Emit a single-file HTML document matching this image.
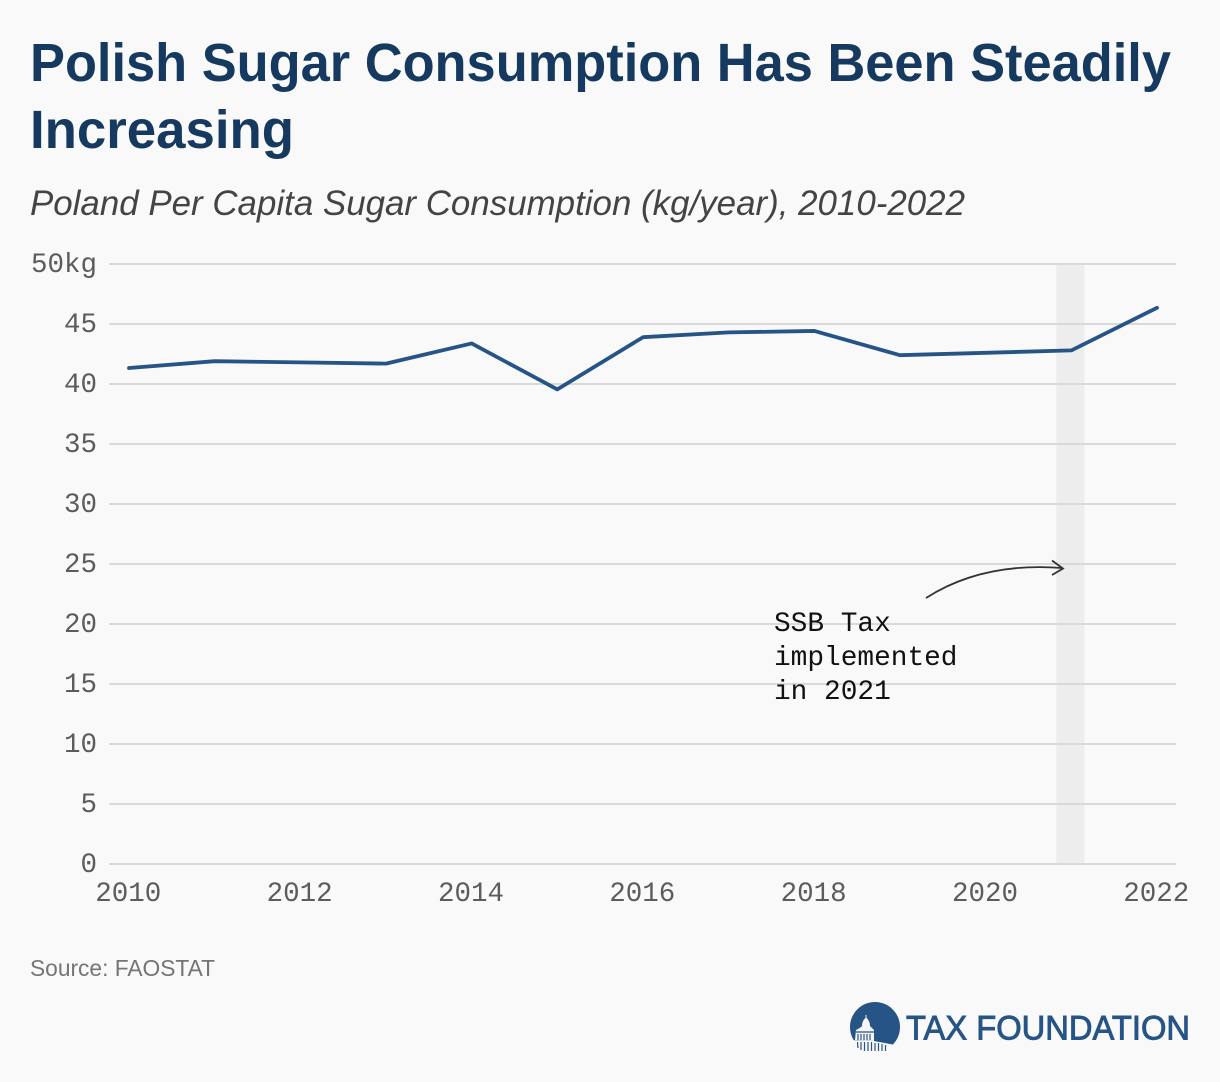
<!DOCTYPE html>
<html lang="en">
<head>
<meta charset="utf-8">
<title>Polish Sugar Consumption Has Been Steadily Increasing</title>
<style>
html,body{margin:0;padding:0;background:#f9f9f9;}
svg{display:block;}
.mono{font-family:"Liberation Mono",monospace;}
.sans{font-family:"Liberation Sans",sans-serif;}
</style>
</head>
<body>
<svg id="chart" xmlns="http://www.w3.org/2000/svg" width="1220" height="1082" viewBox="0 0 1220 1082">
  <rect width="1220" height="1082" fill="#f9f9f9"/>
  <text class="sans" x="30" y="81" font-size="54" font-weight="700" fill="#163a5f" textLength="1141" lengthAdjust="spacingAndGlyphs">Polish Sugar Consumption Has Been Steadily</text>
  <text class="sans" x="30" y="148" font-size="54" font-weight="700" fill="#163a5f" textLength="264" lengthAdjust="spacingAndGlyphs">Increasing</text>
  <text class="sans" x="30" y="215" font-size="35" font-style="italic" fill="#444444" textLength="935" lengthAdjust="spacingAndGlyphs">Poland Per Capita Sugar Consumption (kg/year), 2010-2022</text>

  <g id="grid"></g>
  <rect id="band" y="264" height="600" fill="#d8d8d8" fill-opacity="0.36"/>
  <g id="yticks"></g>
  <g id="xticks"></g>
  <path id="line" fill="none" stroke="#265486" stroke-width="3.8" stroke-linejoin="round" stroke-linecap="round"/>

  <g>
    <path d="M926 598 C965 573 1010 564 1062 568 M1052 560.500 L1063 568.500 L1052 575" fill="none" stroke="#333333" stroke-width="1.8"/>
    <text class="mono" font-size="27.800" fill="#111111">
      <tspan x="774" y="631">SSB Tax</tspan>
      <tspan x="774" y="665">implemented</tspan>
      <tspan x="774" y="699">in 2021</tspan>
    </text>
  </g>

  <text class="sans" x="30" y="976" font-size="23" fill="#757575" textLength="185" lengthAdjust="spacingAndGlyphs">Source: FAOSTAT</text>

  <g>
    <circle cx="875" cy="1027" r="25" fill="#265486"/>
    <path d="M848 1040 L874 1041 L898 1045.500 L898 1054 L848 1054 Z" fill="#f9f9f9"/>
    <path d="M855 1040 L856 1030 C858 1029 860 1028 862 1026 C862 1022 864 1019 865.500 1018 L865.500 1015 L866.500 1015 L866.500 1018 C869 1020 870 1023 870 1026 C872 1028 873 1029 874 1030 L874 1041 Z" fill="#f4f6f8"/>
    <path d="M858 1034 L858 1040 M861 1034 L861 1040 M864 1034 L864 1040 M867 1034 L867 1040 M870 1034 L870 1040 M856 1032 L874 1032 M857.500 1042 L858 1048 M861 1042 L861 1050 M864.500 1042 L864.500 1051 M868 1042 L868 1051 M871.500 1042 L871.500 1051 M875 1043 L875 1051 M878.500 1043 L878.500 1051 M882 1044 L882 1051 M885.500 1045 L885.500 1051" stroke="#265486" stroke-width="1.200" fill="none"/>
    <text class="sans" x="906" y="1039.500" font-size="34" fill="#265486" stroke="#265486" stroke-width="0.900" textLength="284" lengthAdjust="spacingAndGlyphs">TAX FOUNDATION</text>
  </g>
</svg>
<script>
var years = [2010,2011,2012,2013,2014,2015,2016,2017,2018,2019,2020,2021,2022];
var consumption = [41.33,41.9,41.8,41.7,43.38,39.55,43.9,44.3,44.42,42.4,42.6,42.8,46.35];
var yTickValues = [0,5,10,15,20,25,30,35,40,45,50];
var yTickLabels = ["0","5","10","15","20","25","30","35","40","45","50kg"];
var xTickYears = [2010,2012,2014,2016,2018,2020,2022];
var taxYear = 2021;

var NS = 'http://www.w3.org/2000/svg';
function xScale(year){ return 129 + (year - 2010) * (1157 - 129) / 12; }
function yScale(value){ return 864 - value * 12; }

var grid = document.getElementById('grid');
var yticks = document.getElementById('yticks');
yTickValues.forEach(function(value, i){
  var gridline = document.createElementNS(NS, 'line');
  
  
  gridline.setAttribute('x1', 109);
  gridline.setAttribute('x2', 1176);
  gridline.setAttribute('y1', yScale(value));
  gridline.setAttribute('y2', yScale(value));
  gridline.setAttribute('stroke', '#d9d9d9');
  gridline.setAttribute('stroke-width', 2);
  grid.appendChild(gridline);

  var label = document.createElementNS(NS, 'text');
  
  
  label.setAttribute('class', 'mono');
  label.setAttribute('x', 97);
  label.setAttribute('y', yScale(value) + 8);
  label.setAttribute('text-anchor', 'end');
  label.setAttribute('font-size', '27.500');
  label.setAttribute('fill', '#5c5c5c');
  label.textContent = yTickLabels[i];
  yticks.appendChild(label);
});

var xticks = document.getElementById('xticks');
xTickYears.forEach(function(year){
  var label = document.createElementNS(NS, 'text');
  
  
  label.setAttribute('class', 'mono');
  label.setAttribute('x', xScale(year) - 0.7);
  label.setAttribute('y', 901);
  label.setAttribute('text-anchor', 'middle');
  label.setAttribute('font-size', '27.500');
  label.setAttribute('fill', '#5c5c5c');
  label.textContent = String(year);
  xticks.appendChild(label);
});

var band = document.getElementById('band');
band.setAttribute('x', xScale(taxYear) - 15);
band.setAttribute('width', 28);

var d = years.map(function(year, i){
  return (i ? 'L' : 'M') + xScale(year).toFixed(2) + ' ' + yScale(consumption[i]).toFixed(2);
}).join(' ');
document.getElementById('line').setAttribute('d', d);
</script>
</body>
</html>
